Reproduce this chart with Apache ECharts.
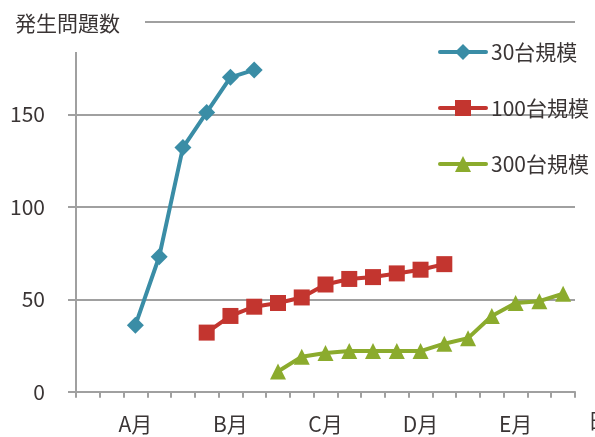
<!DOCTYPE html>
<html>
<head>
<meta charset="utf-8">
<script src="https://cdn.jsdelivr.net/npm/echarts@6/dist/echarts.min.js"></script>
<style>
  html, body { margin: 0; padding: 0; background: #fff; }
  #chart { width: 595px; height: 437px; }
</style>
</head>
<body>
<div id="chart"></div>
<script>
// 21 time slots; month labels sit on every fourth slot
const categories = ['', '', 'A月', '', '', '', 'B月', '', '', '', 'C月', '', '', '', 'D月', '', '', '', 'E月', '', ''];
const yTicks = [0, 50, 100, 150, 200];

// issue counts per scale (null = no data for that slot)
const scale30 = [null, null, 36, 73, 132, 151, 170, 174, null, null, null, null, null, null, null, null, null, null, null, null, null];
const scale100 = [null, null, null, null, null, 32, 41, 46, 48, 51, 58, 61, 62, 64, 66, 69, null, null, null, null, null];
const scale300 = [null, null, null, null, null, null, null, null, 11, 19, 21, 22, 22, 22, 22, 26, 29, 41, 48, 49, 53];

const seriesNames = ['30台規模', '100台規模', '300台規模'];
const FONT = '"Noto Sans CJK JP", "Noto Sans", sans-serif';
const TEXT = '#3a3535';
const GRAY = '#a0a0a0';

const chart = echarts.init(document.getElementById('chart'), null, { renderer: 'canvas' });

function lineSeries(name, data, color, symbol, size) {
  return {
    name: name,
    type: 'line',
    data: data,
    connectNulls: false,
    symbol: symbol,
    symbolSize: size,
    showAllSymbol: true,
    lineStyle: { color: color, width: 4 },
    itemStyle: { color: color },
    emphasis: { disabled: true },
    animation: false
  };
}

chart.setOption({
  animation: false,
  title: {
    text: '発生問題数',
    left: 0,
    top: 0,
    backgroundColor: '#fff',
    padding: [12, 25, 18, 15],
    textStyle: { fontFamily: FONT, fontSize: 21, fontWeight: 'normal', color: TEXT, lineHeight: 22 }
  },
  legend: {
    orient: 'vertical',
    left: 433,
    top: 35,
    itemWidth: 46,
    itemHeight: 20,
    itemGap: 32,
    data: seriesNames,
    lineStyle: { width: 4, cap: 'round' },
    textStyle: { fontFamily: FONT, fontSize: 21, color: TEXT, lineHeight: 24 }
  },
  grid: { left: 76, right: 20, top: 21.8, bottom: 45.2, containLabel: false, outerBoundsMode: 'none' },
  xAxis: {
    type: 'category',
    data: categories,
    boundaryGap: true,
    name: '日数',
    nameLocation: 'end',
    nameGap: 13,
    nameTextStyle: { fontFamily: FONT, fontSize: 21, color: TEXT, verticalAlign: 'top', padding: [18, 0, 0, 0] },
    axisLine: { lineStyle: { color: GRAY, width: 2 } },
    axisTick: { show: true, interval: 0, length: 6, lineStyle: { color: GRAY, width: 2 } },
    axisLabel: { interval: 0, margin: 22, fontFamily: FONT, fontSize: 21, color: TEXT },
    splitLine: { show: false }
  },
  yAxis: {
    type: 'value',
    min: yTicks[0],
    max: yTicks[yTicks.length - 1],
    interval: 50,
    axisLine: { show: true, lineStyle: { color: GRAY, width: 2 } },
    axisTick: { show: true, length: 8, lineStyle: { color: GRAY, width: 2 } },
    axisLabel: {
      margin: 31,
      fontFamily: FONT,
      fontSize: 21,
      color: TEXT,
      formatter: v => (v === yTicks[yTicks.length - 1] ? '' : String(v))
    },
    splitLine: { show: true, lineStyle: { color: GRAY, width: 2 } }
  },
  series: [
    lineSeries(seriesNames[0], scale30, '#3a8da6', 'diamond', 17),
    lineSeries(seriesNames[1], scale100, '#c3352f', 'rect', 16),
    lineSeries(seriesNames[2], scale300, '#8bab2d', 'triangle', 16)
  ]
});
</script>
</body>
</html>
